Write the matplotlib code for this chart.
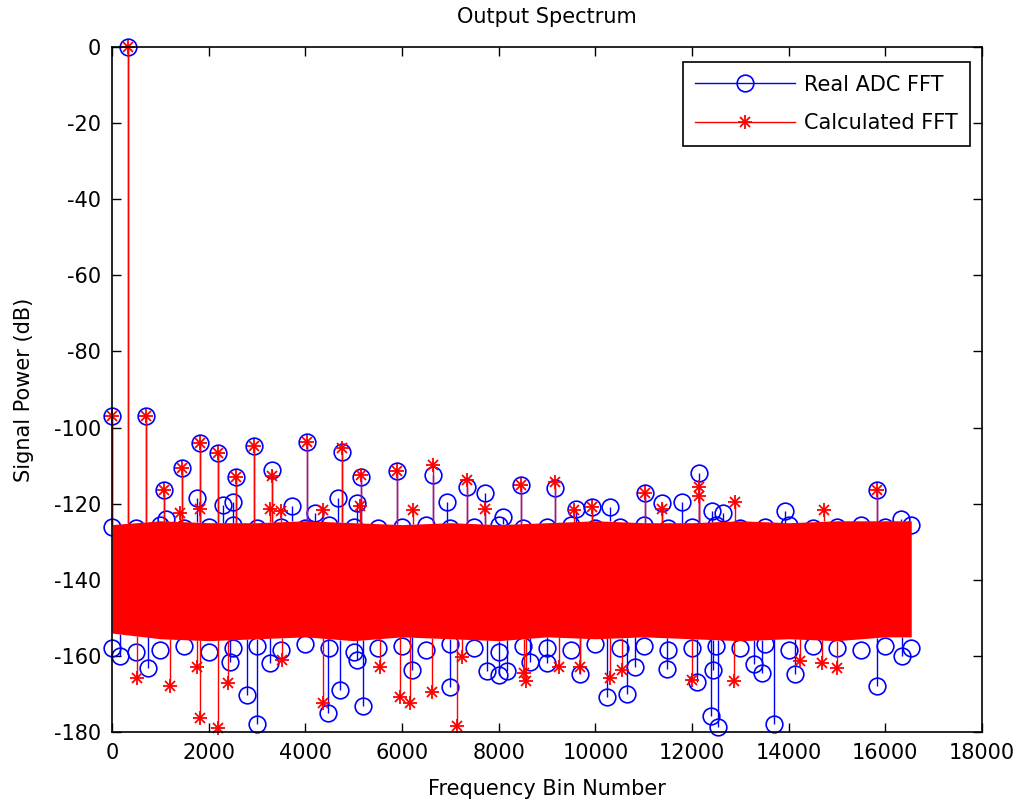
import numpy as np
import matplotlib
matplotlib.use('Agg')
import matplotlib.pyplot as plt
from matplotlib.lines import Line2D
from matplotlib.legend_handler import HandlerTuple

plt.rcParams['font.family'] = 'DejaVu Sans'
plt.rcParams['axes.unicode_minus'] = False

# Noise floor envelope (FFT bin, dB)
floor_bins = [0, 1000, 2000, 3000, 4000, 5000, 6000, 7000, 8000, 9000, 10000,
              11000, 12000, 13000, 14000, 15000, 16000, 16536]
red_top = [-125.5, -124.5, -125, -125, -124.5, -125, -125.5, -125, -125.5, -125,
           -124.5, -125, -125, -124.5, -125, -124.5, -124.5, -124.5]
red_bottom = [-154, -155.5, -156, -155.5, -155, -156, -155, -155.5, -156, -155,
              -155.5, -155, -155.5, -156, -155.5, -156, -155, -155]

# blue markers peeking out of the noise floor
rim_bins = [0, 500, 1000, 1500, 2000, 2500, 3000, 3500, 4000, 4500, 5000, 5500,
            6000, 6500, 7000, 7500, 8000, 8500, 9000, 9500, 10000, 10500, 11000,
            11500, 12000, 12500, 13000, 13500, 14000, 14500, 15000, 15500, 16000, 16536]
rim_top = [-126, -126.5, -125.5, -126.5, -126, -125.5, -126.5, -126, -126.5, -125.5,
           -126, -126.5, -126, -125.5, -126.5, -126, -125.5, -126.5, -126, -125.5,
           -126.5, -126, -125.5, -126.5, -126, -125.5, -126.5, -126, -125.5, -126.5,
           -126, -125.5, -126, -125.5]
rim_bottom = [-158, -159, -158.5, -157.5, -159, -158, -157.5, -158.5, -157, -158,
              -159, -158, -157.5, -158.5, -157, -158, -159, -157.5, -158, -158.5,
              -157, -158, -157.5, -158.5, -158, -157.5, -158, -157, -158.5, -157.5,
              -158, -158.5, -157.5, -158]

# Real ADC FFT: points outside the noise floor
adc_up_bins = [0, 338, 704, 1083, 1456, 1829, 2201, 2567, 2947, 3319, 4031, 4768,
               5149, 5894, 6632, 7343, 8462, 9165, 11035, 12153, 15832,
               1111, 1753, 2305, 2512, 3720, 4686, 5066, 6929, 7709, 9932, 10311,
               11380, 11795, 12416, 12650, 13934, 16315, 9600, 8100, 4200]
adc_up_db = [-97.0, 0.0, -96.9, -116.4, -110.7, -104.1, -106.6, -113.1, -104.8,
             -111.1, -103.7, -106.3, -112.9, -111.4, -112.5, -115.5, -115.1, -116.0,
             -117.3, -112.0, -116.4,
             -124.0, -118.6, -120.3, -119.5, -120.6, -118.6, -119.8, -119.5, -117.3,
             -121.0, -121.0, -119.8, -119.5, -122.0, -122.5, -122.0, -124.0, -121.5,
             -123.5, -122.5]
adc_down_bins = [166, 752, 2443, 2789, 2996, 3271, 4479, 4720, 5066, 5203, 6205,
                 6998, 7757, 7999, 8171, 8654, 9000, 9675, 10242, 10656, 10828,
                 11485, 12105, 12430, 12400, 12540, 13278, 13451, 13692, 14141,
                 15832, 16350]
adc_down_db = [-160.0, -163.2, -161.5, -170.3, -177.9, -161.9, -175.1, -168.9,
               -161.0, -173.2, -163.7, -168.1, -164.1, -165.0, -164.1, -161.5,
               -161.9, -164.7, -170.7, -170.0, -163.0, -163.5, -166.8, -163.7,
               -175.9, -178.6, -162.1, -164.5, -177.9, -164.7, -167.9, -160.0]

# Calculated FFT: points outside the noise floor
calc_up_bins = [0, 338, 704, 1083, 1456, 1829, 2201, 2567, 2947, 3319, 4031, 4768,
                5149, 5894, 6632, 7343, 8462, 9165, 11035, 12153, 15832,
                1822, 3270, 4375, 5130, 6238, 7709, 9551, 9932, 11380, 12153, 12899,
                14727, 1400, 3500]
calc_up_db = [-97.0, 0.0, -96.9, -116.4, -110.7, -104.1, -106.6, -113.1, -104.8,
              -112.6, -103.7, -105.3, -112.5, -111.4, -109.8, -113.8, -115.1, -114.2,
              -117.3, -115.5, -116.4,
              -121.3, -121.3, -121.7, -120.6, -121.7, -121.3, -121.7, -121.0, -121.3,
              -118.0, -119.5, -121.6, -122.5, -122.0]
calc_down_bins = [511, 1201, 1753, 1822, 2201, 2408, 3513, 4375, 5549, 5963, 6170,
                  6619, 7136, 7240, 8530, 8560, 9241, 9675, 10311, 10553, 12002,
                  12864, 14244, 14693, 15004]
calc_down_db = [-165.9, -167.9, -162.8, -176.4, -179.0, -167.0, -161.1, -172.4,
                -162.8, -170.7, -172.4, -169.4, -178.4, -160.4, -164.6, -166.7,
                -162.8, -162.8, -165.9, -163.7, -166.3, -166.5, -161.3, -161.9,
                -163.2]

blue = (0, 0, 1)
red = (1, 0, 0)
fs = 15

fig = plt.figure(figsize=(10.19, 8.06), dpi=100)
ax = fig.add_axes([0.1099, 0.0918, 0.8538, 0.8499])


def draw_series(up_b, up_v, down_b, down_v, color, markers, z):
    up_b = np.asarray(up_b, float)
    down_b = np.asarray(down_b, float)
    base_up = np.interp(up_b, floor_bins, red_top)
    base_dn = np.interp(down_b, floor_bins, red_bottom)
    ax.vlines(up_b, base_up, up_v, colors=color, lw=1, zorder=z)
    ax.vlines(down_b, down_v, base_dn, colors=color, lw=1, zorder=z)
    xs = np.concatenate([up_b, down_b])
    ys = np.concatenate([up_v, down_v])
    for m in markers:
        ax.plot(xs, ys, linestyle='none', clip_on=False, zorder=z + 0.5, **m)


circle = dict(marker='o', markersize=12, mfc='none', mec=blue, mew=1.2)
plus = dict(marker='+', markersize=10.5, mec=red, mew=1.3)
cross = dict(marker='x', markersize=7, mec=red, mew=1.3)

# Real ADC FFT (drawn first, mostly hidden below the calculated one)
ax.plot(rim_bins, rim_top, linestyle='none', clip_on=False, zorder=2, **circle)
ax.plot(rim_bins, rim_bottom, linestyle='none', clip_on=False, zorder=2, **circle)
draw_series(adc_up_bins, adc_up_db, adc_down_bins, adc_down_db, blue, [circle], 3)

# Calculated FFT
ax.fill_between(floor_bins, red_bottom, red_top, color=red, lw=0, zorder=5)
draw_series(calc_up_bins, calc_up_db, calc_down_bins, calc_down_db, red,
            [plus, cross], 6)

ax.set_xlim(0, 18000)
ax.set_ylim(-180, 0)
ax.set_xticks(np.arange(0, 18001, 2000))
ax.set_yticks(np.arange(-180, 1, 20))
ax.tick_params(direction='in', length=6.5, width=1, top=True, right=True,
               labelsize=fs, pad=8)
for s in ax.spines.values():
    s.set_linewidth(1.2)
    s.set_zorder(12)

ax.set_title('Output Spectrum', fontsize=fs, pad=17)
ax.set_xlabel('Frequency Bin Number', fontsize=fs)
ax.set_ylabel('Signal Power (dB)', fontsize=fs)
ax.yaxis.set_label_coords(-0.09, 0.5)
ax.xaxis.set_label_coords(0.5, -0.068)

h_adc = Line2D([], [], color=blue, lw=1, **circle)
h_calc = (Line2D([], [], color=red, lw=1, **plus),
          Line2D([], [], linestyle='none', **cross))
leg = ax.legend([h_adc, h_calc], ['Real ADC FFT', 'Calculated FFT'],
                handler_map={tuple: HandlerTuple(ndivide=1, pad=0)},
                loc='upper right', bbox_to_anchor=(0.986, 0.978), borderaxespad=0,
                fontsize=fs, handlelength=4.8, handletextpad=0.4, labelspacing=0.9,
                borderpad=0.6, fancybox=False, framealpha=1, edgecolor='black')
leg.get_frame().set_linewidth(1.2)
leg.set_zorder(20)

fig.savefig('out.png', dpi=100)
